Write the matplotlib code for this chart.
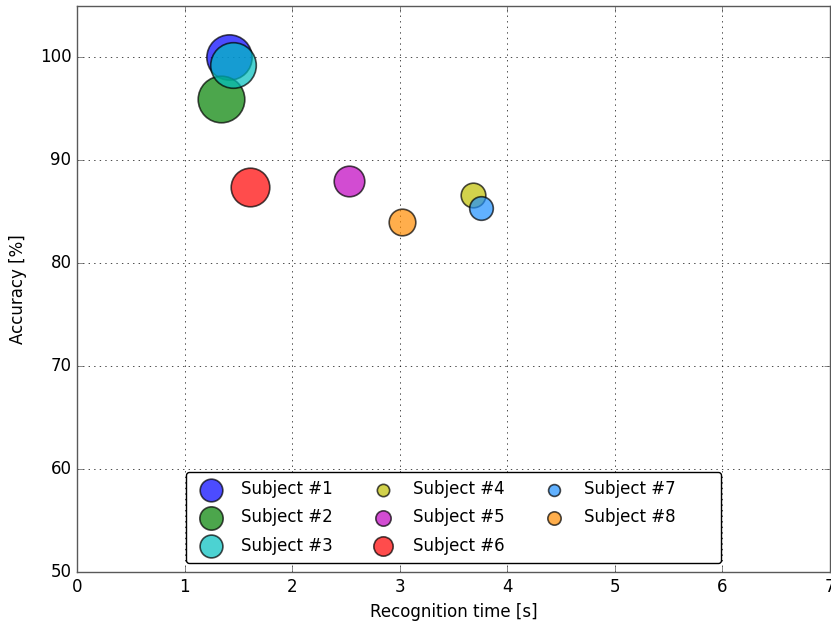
import matplotlib
matplotlib.use("Agg")
import matplotlib.pyplot as plt

# Recognition results per subject
subjects = ["Subject #1", "Subject #2", "Subject #3", "Subject #4",
            "Subject #5", "Subject #6", "Subject #7", "Subject #8"]
recog_time = [1.415, 1.335, 1.447, 3.677, 2.531, 1.608, 3.752, 3.023]
accuracy = [100.0, 95.9, 99.2, 86.6, 88.0, 87.35, 85.35, 84.0]
marker_area = [1063, 1126, 1077, 314, 485, 772, 289, 367]
colors = ["b", "g", "c", "y", "m", "r", "#1e90ff", "#ff8c00"]

plt.style.use("classic")
plt.rcParams["font.family"] = ["DejaVu Sans"]
plt.rcParams["font.size"] = 12

fig = plt.figure(figsize=(8.31, 6.28), dpi=100, facecolor="white")
ax = fig.add_axes([77 / 831, (628 - 572.3) / 628, (830 - 77) / 831, (572.3 - 5.5) / 628])
ax.set_facecolor("white")

for name, t, acc, s, c in zip(subjects, recog_time, accuracy, marker_area, colors):
    ax.scatter(t, acc, s=s, c=c, alpha=0.7, edgecolors="black", linewidths=1.2,
               label=name, zorder=3)

ax.set_xlim(0, 7)
ax.set_ylim(50, 105)
ax.set_xticks(range(0, 8))
ax.set_yticks(range(50, 101, 10))
ax.grid(True, linestyle=":", color="black", linewidth=0.5)
ax.set_axisbelow(True)
for sp in ax.spines.values():
    sp.set_color("0.35")
ax.tick_params(colors="0.35", labelcolor="black", labelsize=12)
ax.set_xlabel("Recognition time [s]", fontsize=12, labelpad=5)
ax.set_ylabel("Accuracy [%]", fontsize=12, labelpad=9)

# pad the last column's labels so the frame leaves room on the right
handles, labels = ax.get_legend_handles_labels()
labels = [lab + "       " if lab in ("Subject #7", "Subject #8") else lab for lab in labels]
leg = ax.legend(handles, labels, loc="lower center", ncol=3, scatterpoints=1,
                markerscale=0.5, fontsize=12, fancybox=True, framealpha=1.0,
                labelspacing=0.62, borderaxespad=0.55, borderpad=0.5)
leg.get_frame().set_edgecolor("black")

fig.savefig("out.png", dpi=100, facecolor="white")
